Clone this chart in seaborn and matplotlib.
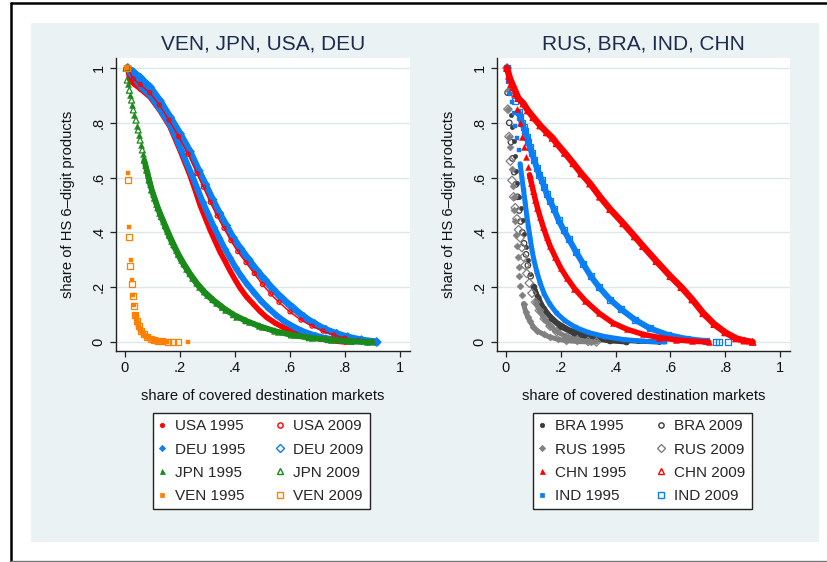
import matplotlib
matplotlib.use("Agg")
import matplotlib.pyplot as plt
from matplotlib.lines import Line2D
from matplotlib.patches import Rectangle
import seaborn as sns

# ---------------- data: share of covered markets (x) vs share of products (y)
usa95_x = [0.010, 0.018, 0.035, 0.055, 0.091, 0.127, 0.164, 0.200, 0.236, 0.255, 0.273, 0.291, 0.309, 0.327, 0.345, 0.364,
           0.382, 0.400, 0.418, 0.442, 0.467, 0.490, 0.515, 0.545, 0.576, 0.606, 0.636, 0.670, 0.709, 0.740, 0.770, 0.800]
usa95_y = [1.0, 0.955, 0.94, 0.925, 0.894, 0.845, 0.785, 0.70, 0.61, 0.555, 0.50, 0.455, 0.41, 0.37, 0.33, 0.295,
           0.26, 0.228, 0.198, 0.165, 0.138, 0.113, 0.09, 0.07, 0.053, 0.04, 0.03, 0.02, 0.012, 0.006, 0.003, 0.0]
usa09_x = [0.010, 0.030, 0.055, 0.090, 0.125, 0.160, 0.195, 0.230, 0.262, 0.285, 0.310, 0.335, 0.360, 0.385, 0.410, 0.440,
           0.470, 0.500, 0.530, 0.560, 0.600, 0.640, 0.680, 0.720, 0.760, 0.800, 0.850, 0.900]
usa09_y = [1.0, 0.96, 0.94, 0.91, 0.865, 0.81, 0.75, 0.685, 0.615, 0.565, 0.51, 0.46, 0.415, 0.37, 0.33, 0.29,
           0.25, 0.21, 0.175, 0.145, 0.11, 0.08, 0.058, 0.04, 0.025, 0.014, 0.005, 0.0]
deu95_x = [0.010, 0.020, 0.040, 0.060, 0.095, 0.130, 0.168, 0.205, 0.243, 0.263, 0.283, 0.303, 0.323, 0.343, 0.363, 0.383,
           0.403, 0.423, 0.445, 0.470, 0.495, 0.520, 0.550, 0.580, 0.615, 0.650, 0.690, 0.730, 0.780, 0.830, 0.880, 0.915]
deu95_y = [1.0, 0.98, 0.955, 0.93, 0.895, 0.845, 0.785, 0.70, 0.61, 0.56, 0.51, 0.465, 0.42, 0.38, 0.34, 0.305,
           0.27, 0.24, 0.21, 0.18, 0.15, 0.125, 0.098, 0.075, 0.055, 0.038, 0.024, 0.014, 0.007, 0.003, 0.001, 0.0]
deu09_x = [0.010, 0.030, 0.055, 0.091, 0.127, 0.164, 0.200, 0.236, 0.268, 0.292, 0.318, 0.343, 0.368, 0.393, 0.420, 0.450,
           0.480, 0.510, 0.540, 0.570, 0.610, 0.650, 0.690, 0.730, 0.770, 0.810, 0.860, 0.915]
deu09_y = [1.0, 0.985, 0.965, 0.93, 0.88, 0.82, 0.76, 0.695, 0.625, 0.575, 0.52, 0.47, 0.425, 0.38, 0.34, 0.30,
           0.26, 0.225, 0.19, 0.16, 0.125, 0.092, 0.066, 0.045, 0.03, 0.018, 0.007, 0.0]
jpn95_x = [0.004, 0.010, 0.018, 0.026, 0.034, 0.043, 0.051, 0.059, 0.066, 0.074, 0.083, 0.092, 0.102, 0.113, 0.125, 0.138,
           0.152, 0.167, 0.184, 0.202, 0.222, 0.245, 0.270, 0.298, 0.330, 0.365, 0.405, 0.450, 0.500, 0.555, 0.615, 0.680,
           0.750, 0.820, 0.880]
jpn95_y = [1.0, 0.94, 0.90, 0.865, 0.83, 0.79, 0.755, 0.72, 0.685, 0.645, 0.61, 0.575, 0.54, 0.505, 0.472, 0.44,
           0.405, 0.37, 0.336, 0.30, 0.268, 0.233, 0.20, 0.17, 0.143, 0.117, 0.093, 0.072, 0.053, 0.037, 0.024, 0.014,
           0.007, 0.002, 0.0]
jpn09_x = [0.004, 0.008, 0.016, 0.024, 0.030, 0.040, 0.048, 0.055, 0.063, 0.070, 0.079, 0.088, 0.097, 0.108, 0.120, 0.133,
           0.147, 0.162, 0.178, 0.195, 0.215, 0.237, 0.262, 0.290, 0.320, 0.355, 0.395, 0.440, 0.490, 0.545, 0.605, 0.670,
           0.740, 0.820, 0.900]
jpn09_y = [1.0, 0.956, 0.919, 0.883, 0.847, 0.81, 0.774, 0.737, 0.701, 0.664, 0.628, 0.591, 0.555, 0.525, 0.49, 0.458,
           0.425, 0.39, 0.355, 0.32, 0.285, 0.25, 0.215, 0.183, 0.155, 0.127, 0.10, 0.078, 0.058, 0.04, 0.026, 0.016,
           0.009, 0.003, 0.0]
ven95_x = [0.008, 0.011, 0.016, 0.021, 0.024, 0.029, 0.034, 0.039, 0.042, 0.048, 0.055, 0.067, 0.079, 0.091, 0.103, 0.115,
           0.127, 0.140, 0.152, 0.230]
ven95_y = [1.0, 0.617, 0.419, 0.299, 0.226, 0.17, 0.134, 0.10, 0.08, 0.061, 0.045, 0.03, 0.02, 0.013, 0.009, 0.006,
           0.004, 0.002, 0.001, 0.0]
ven09_x = [0.006, 0.010, 0.015, 0.019, 0.024, 0.028, 0.033, 0.038, 0.043, 0.050, 0.058, 0.068, 0.080, 0.093, 0.106, 0.120,
           0.135, 0.158, 0.176, 0.194]
ven09_y = [1.0, 0.59, 0.385, 0.277, 0.211, 0.168, 0.132, 0.10, 0.077, 0.058, 0.042, 0.028, 0.018, 0.011, 0.007, 0.004,
           0.002, 0.0, 0.0, 0.0]

bra95_x = [0.004, 0.010, 0.018, 0.022, 0.028, 0.032, 0.038, 0.042, 0.048, 0.055, 0.061, 0.067, 0.073, 0.079, 0.088, 0.100,
           0.115, 0.135, 0.160, 0.190, 0.230, 0.280, 0.340, 0.410, 0.480, 0.560]
bra95_y = [1.0, 0.91, 0.83, 0.785, 0.735, 0.68, 0.625, 0.58, 0.53, 0.49, 0.445, 0.395, 0.345, 0.30, 0.25, 0.205,
           0.165, 0.128, 0.095, 0.068, 0.045, 0.028, 0.015, 0.007, 0.003, 0.0]
bra09_x = [0.004, 0.006, 0.012, 0.018, 0.024, 0.030, 0.036, 0.042, 0.048, 0.054, 0.060, 0.066, 0.073, 0.080, 0.090, 0.102,
           0.118, 0.138, 0.165, 0.200, 0.250, 0.310, 0.380, 0.440]
bra09_y = [1.0, 0.91, 0.80, 0.73, 0.67, 0.62, 0.575, 0.53, 0.48, 0.44, 0.40, 0.36, 0.32, 0.28, 0.24, 0.20,
           0.16, 0.12, 0.085, 0.055, 0.03, 0.013, 0.004, 0.0]
rus95_x = [0.004, 0.006, 0.008, 0.011, 0.016, 0.022, 0.025, 0.028, 0.031, 0.034, 0.037, 0.040, 0.043, 0.046, 0.049, 0.052,
           0.058, 0.064, 0.072, 0.080, 0.088, 0.100, 0.115, 0.137, 0.160, 0.190, 0.220, 0.260, 0.310]
rus95_y = [1.0, 0.92, 0.85, 0.75, 0.71, 0.63, 0.57, 0.53, 0.48, 0.44, 0.39, 0.35, 0.31, 0.275, 0.24, 0.205,
           0.17, 0.14, 0.11, 0.09, 0.075, 0.055, 0.04, 0.028, 0.018, 0.01, 0.005, 0.002, 0.0]
rus09_x = [0.004, 0.007, 0.011, 0.016, 0.022, 0.028, 0.034, 0.040, 0.046, 0.052, 0.058, 0.064, 0.070, 0.076, 0.085, 0.095,
           0.108, 0.122, 0.140, 0.161, 0.185, 0.222, 0.260, 0.300, 0.330]
rus09_y = [1.0, 0.85, 0.75, 0.66, 0.59, 0.53, 0.49, 0.45, 0.41, 0.38, 0.345, 0.31, 0.28, 0.25, 0.215, 0.178,
           0.145, 0.115, 0.085, 0.058, 0.038, 0.019, 0.008, 0.002, 0.0]
chn95_x = [0.004, 0.009, 0.016, 0.028, 0.040, 0.050, 0.058, 0.065, 0.072, 0.079, 0.086, 0.093, 0.100, 0.107, 0.115, 0.125,
           0.136, 0.148, 0.161, 0.180, 0.200, 0.222, 0.250, 0.290, 0.340, 0.390, 0.440, 0.500, 0.560, 0.620, 0.680, 0.740]
chn95_y = [1.0, 0.97, 0.94, 0.905, 0.85, 0.80, 0.75, 0.71, 0.675, 0.64, 0.61, 0.58, 0.55, 0.52, 0.49, 0.455,
           0.42, 0.385, 0.35, 0.31, 0.27, 0.235, 0.195, 0.15, 0.105, 0.07, 0.047, 0.028, 0.016, 0.008, 0.003, 0.0]
chn09_x = [0.004, 0.015, 0.028, 0.045, 0.064, 0.080, 0.100, 0.125, 0.149, 0.170, 0.185, 0.215, 0.246, 0.275, 0.307, 0.343,
           0.380, 0.428, 0.470, 0.500, 0.549, 0.600, 0.640, 0.680, 0.720, 0.760, 0.800, 0.840, 0.870, 0.900]
chn09_y = [1.0, 0.96, 0.93, 0.89, 0.87, 0.845, 0.82, 0.79, 0.765, 0.745, 0.725, 0.69, 0.652, 0.615, 0.578, 0.53,
           0.485, 0.433, 0.385, 0.35, 0.295, 0.24, 0.20, 0.155, 0.105, 0.065, 0.035, 0.013, 0.005, 0.0]
ind95_x = [0.004, 0.010, 0.016, 0.022, 0.028, 0.034, 0.040, 0.046, 0.052, 0.058, 0.064, 0.070, 0.076, 0.082, 0.088, 0.095,
           0.103, 0.113, 0.125, 0.140, 0.160, 0.185, 0.215, 0.255, 0.300, 0.360, 0.430, 0.500, 0.580]
ind95_y = [1.0, 0.955, 0.905, 0.875, 0.835, 0.79, 0.745, 0.70, 0.65, 0.60, 0.555, 0.51, 0.46, 0.42, 0.38, 0.335,
           0.295, 0.255, 0.215, 0.175, 0.138, 0.105, 0.078, 0.053, 0.035, 0.020, 0.009, 0.003, 0.0]
ind09_x = [0.004, 0.012, 0.022, 0.034, 0.046, 0.052, 0.058, 0.064, 0.070, 0.076, 0.082, 0.088, 0.095, 0.103, 0.113, 0.122,
           0.131, 0.140, 0.149, 0.161, 0.175, 0.192, 0.210, 0.230, 0.255, 0.282, 0.310, 0.340, 0.380, 0.420, 0.470, 0.525,
           0.590, 0.660, 0.730, 0.767, 0.779, 0.810]
ind09_y = [1.0, 0.955, 0.92, 0.88, 0.84, 0.82, 0.80, 0.785, 0.77, 0.75, 0.73, 0.71, 0.69, 0.665, 0.635, 0.61,
           0.59, 0.565, 0.54, 0.515, 0.485, 0.445, 0.41, 0.375, 0.33, 0.285, 0.24, 0.20, 0.155, 0.12, 0.082, 0.05,
           0.026, 0.011, 0.003, 0.0, 0.0, 0.0]

tick_vals = [0, 0.2, 0.4, 0.6, 0.8, 1.0]
tick_labels = ["0", ".2", ".4", ".6", ".8", "1"]
left_title = "VEN, JPN, USA, DEU"
right_title = "RUS, BRA, IND, CHN"
x_title = "share of covered destination markets"
y_title = "share of HS 6\u2013digit products"

# ---------------- style
RED, BLUE, GREEN, ORANGE = "#ff0000", "#0a7ff5", "#1a8a1a", "#ff8000"
DARK, GRAY = "#3c3c3c", "#808080"
BG = "#eaf2f3"
GRID = "#dde8eb"
NAVY = "#1c2b4f"

sns.set_theme(style="white")
plt.rcParams["font.family"] = ["Liberation Sans", "DejaVu Sans"]

W, H = 828, 562
fig = plt.figure(figsize=(W / 100, H / 100), dpi=100, facecolor="white")


def fx(px):
    return px / W


def fy(py):
    return 1 - py / H


# grey-blue graph region and outer frame
fig.patches.append(Rectangle((fx(31), fy(542)), fx(819 - 31), (542 - 23) / H,
                             transform=fig.transFigure, facecolor=BG, edgecolor="none", zorder=-5))
fig.add_artist(Line2D([fx(10.5), fx(10.5)], [fy(2.5), fy(560.5)], transform=fig.transFigure,
                      color="black", lw=1.8))
fig.add_artist(Line2D([fx(10.5), fx(830)], [fy(2.5), fy(2.5)], transform=fig.transFigure,
                      color="black", lw=1.8))
fig.add_artist(Line2D([fx(10.5), fx(830)], [fy(560.5), fy(560.5)], transform=fig.transFigure,
                      color="#777777", lw=1.0))

ax_l = fig.add_axes([fx(116), fy(351), fx(410 - 116), (351 - 58) / H])
ax_r = fig.add_axes([fx(497), fy(351), fx(790 - 497), (351 - 58) / H])


def draw(ax, x, y, color, marker, size_px, filled, band=None, band_px=None, z=2):
    if band is not None:
        i0, i1 = band
        sns.lineplot(x=x[i0:i1], y=y[i0:i1], ax=ax, color=color, sort=False, estimator=None,
                     lw=(band_px or size_px) * 0.72, solid_capstyle="round",
                     solid_joinstyle="round", zorder=z)
    s = (size_px * 0.72) ** 2
    if filled:
        sns.scatterplot(x=x, y=y, ax=ax, marker=marker, s=s, color=color, edgecolor=color,
                        linewidth=0.3, zorder=z + 0.1)
    else:
        sns.scatterplot(x=x, y=y, ax=ax, marker=marker, s=s, color=color, facecolor="none",
                        edgecolor=color, linewidth=0.9, zorder=z + 0.1)


# left panel
draw(ax_l, usa95_x, usa95_y, RED, "o", 4.5, True, (0, None), 5.5, z=2)
draw(ax_l, deu95_x, deu95_y, BLUE, "D", 5.0, True, (0, None), 6.0, z=3)
draw(ax_l, deu09_x, deu09_y, BLUE, "D", 6.0, False, (0, None), 7.0, z=4)
draw(ax_l, usa09_x, usa09_y, RED, "o", 4.0, False, (0, None), 1.5, z=5)
draw(ax_l, jpn95_x, jpn95_y, GREEN, "^", 6.0, True, (9, None), 5.5, z=6)
draw(ax_l, jpn09_x, jpn09_y, GREEN, "^", 6.0, False, (9, None), 5.5, z=7)
draw(ax_l, ven95_x, ven95_y, ORANGE, "s", 5.0, True, (7, 19), 5.0, z=8)
draw(ax_l, ven09_x, ven09_y, ORANGE, "s", 6.0, False, (7, 17), 5.0, z=9)

# right panel
draw(ax_r, bra95_x, bra95_y, DARK, "o", 4.5, True, (15, None), 5.0, z=2)
draw(ax_r, bra09_x, bra09_y, DARK, "o", 5.5, False, (15, None), 5.0, z=3)
draw(ax_r, rus95_x, rus95_y, GRAY, "D", 5.0, True, (17, None), 5.0, z=4)
draw(ax_r, rus09_x, rus09_y, GRAY, "D", 6.0, False, (16, None), 5.0, z=5)
draw(ax_r, ind95_x, ind95_y, BLUE, "s", 5.0, True, (8, None), 5.0, z=6)
draw(ax_r, ind09_x, ind09_y, BLUE, "s", 6.0, False, (4, 35), 6.0, z=7)
draw(ax_r, chn95_x, chn95_y, RED, "^", 6.0, True, (10, None), 5.5, z=8)
draw(ax_r, chn09_x, chn09_y, RED, "^", 6.5, False, (0, None), 6.5, z=9)

for ax, title in ((ax_l, left_title), (ax_r, right_title)):
    ax.set_facecolor("white")
    ax.set_xlim(-0.0327, 1.0364)
    ax.set_ylim(-0.0328, 1.0365)
    ax.set_xticks(tick_vals)
    ax.set_xticklabels(tick_labels)
    ax.set_yticks(tick_vals)
    ax.set_yticklabels(tick_labels, rotation=90, va="center")
    ax.yaxis.grid(True, color=GRID, lw=1.0, zorder=0)
    ax.xaxis.grid(False)
    ax.set_axisbelow(True)
    for side in ("top", "right"):
        ax.spines[side].set_visible(False)
    for side in ("left", "bottom"):
        ax.spines[side].set_color("#222222")
        ax.spines[side].set_linewidth(1.0)
    ax.tick_params(axis="both", direction="out", length=4.5, width=0.9, color="#222222",
                   labelsize=10.5, labelcolor="#111111", left=True, bottom=True)
    ax.tick_params(axis="x", pad=2.5)
    ax.tick_params(axis="y", pad=3.0)
    ax.set_xlabel(x_title, fontsize=10.6, color="#111111")
    ax.set_ylabel(y_title, fontsize=10.6, color="#111111")
    ax.xaxis.set_label_coords(0.5, -0.13)
    ax.yaxis.set_label_coords(-0.14, 0.5)
    ax.set_title(title, fontsize=15, color=NAVY, pad=6)


def handle(marker, color, filled, ms):
    return Line2D([], [], linestyle="none", marker=marker, markersize=ms,
                  markerfacecolor=color if filled else "none", markeredgecolor=color,
                  markeredgewidth=1.0 if not filled else 0.5)


leg_kw = dict(loc="upper left", ncol=2, fontsize=11, frameon=True, fancybox=False,
              edgecolor="#222222", framealpha=1.0, facecolor="white", borderaxespad=0,
              handlelength=0.4, handletextpad=0.65, columnspacing=2.05, labelspacing=0.6,
              borderpad=0.42)

left_handles = [handle("o", RED, True, 3.2), handle("D", BLUE, True, 3.2),
                handle("^", GREEN, True, 3.6), handle("s", ORANGE, True, 3.4),
                handle("o", RED, False, 3.8), handle("D", BLUE, False, 3.8),
                handle("^", GREEN, False, 4.2), handle("s", ORANGE, False, 4.0)]
left_labels = ["USA 1995", "DEU 1995", "JPN 1995", "VEN 1995",
               "USA 2009", "DEU 2009", "JPN 2009", "VEN 2009"]
leg1 = fig.legend(left_handles, left_labels, bbox_to_anchor=(fx(153), fy(413)), **leg_kw)
leg1.get_frame().set_linewidth(1.0)

right_handles = [handle("o", DARK, True, 3.2), handle("D", GRAY, True, 3.2),
                 handle("^", RED, True, 3.6), handle("s", BLUE, True, 3.4),
                 handle("o", DARK, False, 3.8), handle("D", GRAY, False, 3.8),
                 handle("^", RED, False, 4.2), handle("s", BLUE, False, 4.0)]
right_labels = ["BRA 1995", "RUS 1995", "CHN 1995", "IND 1995",
                "BRA 2009", "RUS 2009", "CHN 2009", "IND 2009"]
leg2 = fig.legend(right_handles, right_labels, bbox_to_anchor=(fx(533), fy(413)), **leg_kw)
leg2.get_frame().set_linewidth(1.0)

fig.savefig("out.png", dpi=100, facecolor="white")
